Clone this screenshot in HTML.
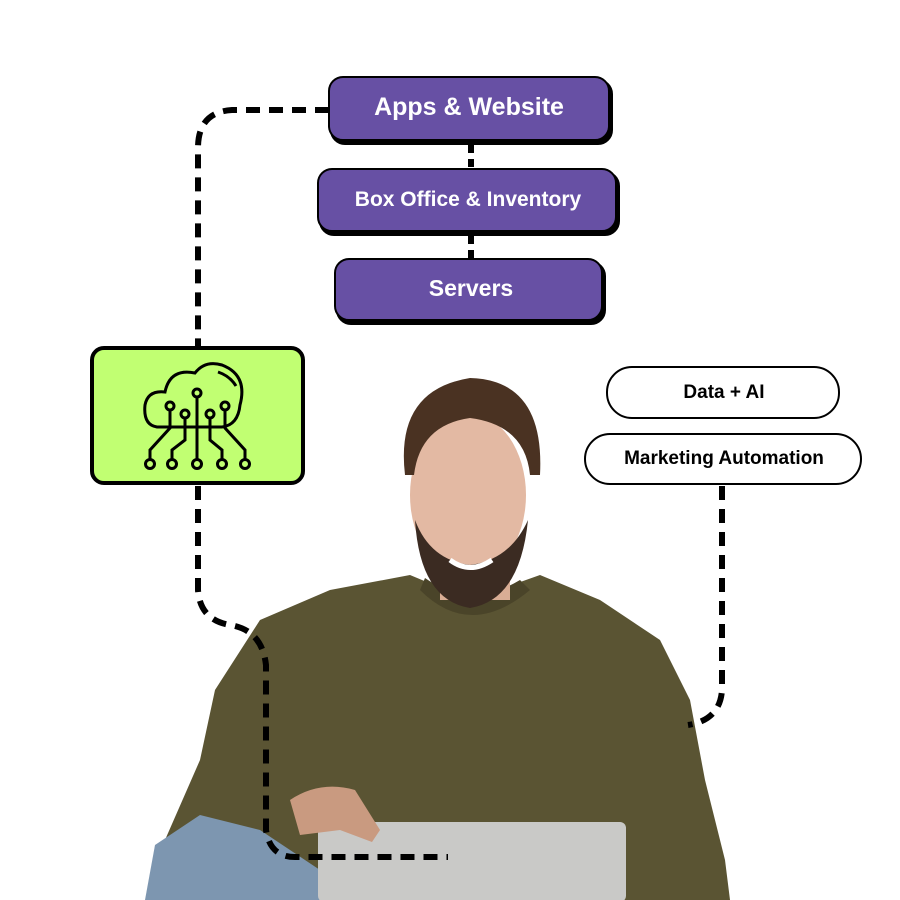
<!DOCTYPE html>
<html><head><meta charset="utf-8"><style>
body{margin:0;background:#fff}
svg{display:block}
text{font-family:"Liberation Sans",sans-serif;font-weight:bold}
</style></head><body>
<svg width="900" height="900" viewBox="0 0 900 900" xmlns="http://www.w3.org/2000/svg">
<rect width="900" height="900" fill="#fff"/>
<!-- person -->
<path d="M150 900 L165 840 L200 760 L215 690 L260 620 L330 590 L410 575 L470 600 L540 575 L600 600 L660 640 L690 700 L705 780 L725 860 L730 900 Z" fill="#5a5433"/>
<path d="M420 590 Q470 640 530 590 L520 580 Q470 610 425 578 Z" fill="#4a4429"/>
<path d="M145 900 L155 845 L200 815 L260 830 L320 870 L320 900 Z" fill="#7d96b0"/>
<rect x="318" y="822" width="308" height="80" rx="6" fill="#c9c9c7"/>
<path d="M290 800 Q320 780 355 790 L380 830 L372 842 L340 830 L300 835 Z" fill="#c99a80"/>
<rect x="440" y="540" width="70" height="60" fill="#d9ad95"/>
<ellipse cx="468" cy="495" rx="58" ry="82" fill="#e3b9a3"/>
<path d="M415 520 Q420 600 470 608 Q520 600 528 520 Q510 560 470 565 Q430 560 415 520 Z" fill="#3b2b22"/>
<path d="M405 475 Q395 390 470 378 Q545 380 540 475 L530 475 Q525 425 470 418 Q420 425 414 475 Z" fill="#4a3222"/>
<path d="M450 560 Q470 575 492 560" stroke="#fff" stroke-width="5" fill="none"/>
<!-- connectors -->
<g fill="none" stroke="#000" stroke-width="6" stroke-dasharray="14 9">
<path d="M329 110 L232 110 Q198 112 198 148 L198 347"/>
<path d="M198 486 L198 590 Q200 620 230 625 Q262 630 266 665 L266 830 Q270 857 295 857 L448 857"/>
<path d="M722 486 L722 690 Q720 720 688 725"/>
<path d="M471 145 L471 169 M471 236 L471 259" stroke-dasharray="8 6"/>
</g>
<!-- purple boxes -->
<g stroke="#000" stroke-width="2">
<rect x="331" y="80" width="281" height="64" rx="14" fill="#000"/>
<rect x="329" y="77" width="280" height="63" rx="14" fill="#6750a4"/>
<rect x="320" y="172" width="299" height="63" rx="14" fill="#000"/>
<rect x="318" y="169" width="298" height="62" rx="14" fill="#6750a4"/>
<rect x="337" y="262" width="268" height="62" rx="14" fill="#000"/>
<rect x="335" y="259" width="267" height="61" rx="14" fill="#6750a4"/>
</g>
<text x="469" y="115" font-size="25" fill="#fff" text-anchor="middle">Apps &amp; Website</text>
<text x="468" y="206" font-size="21" fill="#fff" text-anchor="middle">Box Office &amp; Inventory</text>
<text x="471" y="296" font-size="23" fill="#fff" text-anchor="middle">Servers</text>
<!-- green box -->
<rect x="92" y="348" width="211" height="135" rx="12" fill="#c1ff72" stroke="#000" stroke-width="4"/>
<g fill="none" stroke="#000" stroke-width="3">
<path d="M157 427 Q143 425 145 405 Q148 390 165 392 Q170 368 195 373 Q205 360 222 365 Q248 375 240 405 Q238 425 222 427 Z"/>
<path d="M218 372 Q230 376 236 386"/>
<path d="M197 396 L197 460 M170 410 L170 428 L150 450 L150 460 M185 418 L185 440 L172 450 L172 460 M210 418 L210 440 L222 450 L222 460 M225 410 L225 428 L245 450 L245 460"/>
<circle cx="197" cy="393" r="4"/><circle cx="170" cy="406" r="4"/><circle cx="185" cy="414" r="4"/><circle cx="210" cy="414" r="4"/><circle cx="225" cy="406" r="4"/>
<circle cx="150" cy="464" r="4.5"/><circle cx="172" cy="464" r="4.5"/><circle cx="197" cy="464" r="4.5"/><circle cx="222" cy="464" r="4.5"/><circle cx="245" cy="464" r="4.5"/>
</g>
<!-- pills -->
<rect x="607" y="367" width="232" height="51" rx="25" fill="#fff" stroke="#000" stroke-width="2"/>
<rect x="585" y="434" width="276" height="50" rx="25" fill="#fff" stroke="#000" stroke-width="2"/>
<text x="724" y="398" font-size="19" fill="#000" text-anchor="middle">Data + AI</text>
<text x="724" y="464" font-size="19" fill="#000" text-anchor="middle">Marketing Automation</text>
</svg>
</body></html>
